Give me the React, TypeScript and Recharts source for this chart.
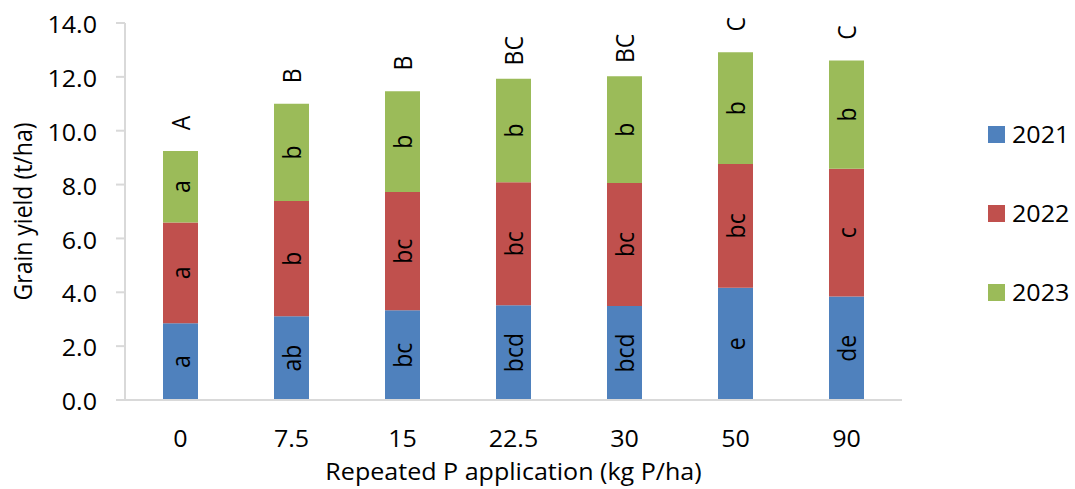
import React from 'react';
import { BarChart, Bar, XAxis, YAxis, Legend, LabelList } from 'recharts';

const doses = ['0', '7.5', '15', '22.5', '30', '50', '90'];
const y2021 = [2.85, 3.11, 3.33, 3.52, 3.49, 4.17, 3.84];
const y2022 = [3.74, 4.28, 4.39, 4.57, 4.57, 4.59, 4.75];
const y2023 = [2.66, 3.61, 3.75, 3.84, 3.96, 4.15, 4.02];
const l2021 = ['a', 'ab', 'bc', 'bcd', 'bcd', 'e', 'de'];
const l2022 = ['a', 'b', 'bc', 'bc', 'bc', 'bc', 'c'];
const l2023 = ['a', 'b', 'b', 'b', 'b', 'b', 'b'];
const totalLabels = ['A', 'B', 'B', 'BC', 'BC', 'C', 'C'];
const yTicks = [0, 2, 4, 6, 8, 10, 12, 14];

const series = [
  { key: 'y2021', label: 'l2021', name: '2021', color: '#4F81BD' },
  { key: 'y2022', label: 'l2022', name: '2022', color: '#C0504D' },
  { key: 'y2023', label: 'l2023', name: '2023', color: '#9BBB59' },
];

const data = doses.map((d, i) => ({
  dose: d,
  y2021: y2021[i],
  y2022: y2022[i],
  y2023: y2023[i],
  l2021: l2021[i],
  l2022: l2022[i],
  l2023: l2023[i],
  top: totalLabels[i],
}));

const FONT = '"Open Sans", sans-serif';
const FS = 23;
const SX = 1.09;
const LEGEND_W = 87;

const HText = ({ x, y, anchor, children }: any) => (
  <text
    transform={`translate(${x}, ${y}) scale(${SX}, 1)`}
    x={0}
    y={0}
    textAnchor={anchor}
    dominantBaseline="central"
    fontFamily={FONT}
    fontSize={FS}
    fill="#000"
  >
    {children}
  </text>
);

const VText = ({ x, y, children }: any) => (
  <text
    transform={`translate(${x}, ${y}) scale(${SX}, 1) rotate(-90)`}
    x={0}
    y={0}
    textAnchor="middle"
    dominantBaseline="central"
    fontFamily={FONT}
    fontSize={FS}
    fill="#000"
  >
    {children}
  </text>
);

const InsideLabel = (props: any) => {
  const { x, y, width, height, value } = props;
  return <VText x={Number(x) + Number(width) / 2} y={Number(y) + Number(height) / 2}>{value}</VText>;
};

const TopLabel = (props: any) => {
  const { x, y, width, value } = props;
  return <VText x={Number(x) + Number(width) / 2} y={Number(y) - 28}>{value}</VText>;
};

const XTick = (props: any) => {
  const { x, y, payload } = props;
  return <HText x={x} y={Number(y) + 38} anchor="middle">{payload.value}</HText>;
};

const YTick = (props: any) => {
  const { x, y, payload } = props;
  return <HText x={x} y={Number(y) + 1} anchor="end">{Number(payload.value).toFixed(1)}</HText>;
};

const LegendContent = () => (
  <div style={{ fontFamily: FONT, fontSize: FS, color: '#000', lineHeight: '24px' }}>
    {series.map((s, i) => (
      <div key={s.key} style={{ display: 'flex', alignItems: 'center', height: 24, marginBottom: i < series.length - 1 ? 55 : 0 }}>
        <div style={{ width: 17, height: 17, background: s.color, marginRight: 7, flex: 'none' }} />
        <span style={{ display: 'inline-block', transform: `scale(${SX}, 1)`, transformOrigin: 'left center' }}>{s.name}</span>
      </div>
    ))}
  </div>
);

export default function App() {
  return (
    <div style={{ position: 'absolute', left: 0, top: 0, width: 1075, height: 489, background: '#fff' }}>
      <BarChart
        width={1075}
        height={489}
        data={data}
        margin={{ top: 23, right: 173 - LEGEND_W, bottom: 0, left: 0 }}
        barCategoryGap={0}
      >
        <XAxis
          dataKey="dose"
          tick={<XTick />}
          tickLine={false}
          tickSize={0}
          tickMargin={0}
          axisLine={{ stroke: '#D9D9D9', strokeWidth: 2 }}
          height={89}
          label={{
            content: (p: any) => {
              const vb = p.viewBox;
              return (
                <HText x={vb.x + vb.width / 2} y={vb.y + 71} anchor="middle">
                  Repeated P application (kg P/ha)
                </HText>
              );
            },
          }}
        />
        <YAxis
          domain={[0, 14]}
          ticks={yTicks}
          width={125}
          tick={<YTick />}
          tickSize={9}
          tickMargin={19}
          tickLine={{ stroke: '#D9D9D9', strokeWidth: 2 }}
          axisLine={{ stroke: '#D9D9D9', strokeWidth: 2 }}
          label={{
            content: (p: any) => {
              const vb = p.viewBox;
              return (
                <VText x={22} y={vb.y + vb.height / 2}>
                  Grain yield (t/ha)
                </VText>
              );
            },
          }}
        />
        <Legend
          layout="vertical"
          verticalAlign="top"
          align="right"
          content={<LegendContent />}
          wrapperStyle={{ position: 'absolute', left: 988, top: 122, width: LEGEND_W }}
        />
        {series.map((s, i) => (
          <Bar key={s.key} dataKey={s.key} name={s.name} stackId="a" fill={s.color} barSize={35} isAnimationActive={false}>
            <LabelList dataKey={s.label} content={<InsideLabel />} />
            {i === series.length - 1 ? <LabelList dataKey="top" content={<TopLabel />} /> : null}
          </Bar>
        ))}
      </BarChart>
    </div>
  );
}
